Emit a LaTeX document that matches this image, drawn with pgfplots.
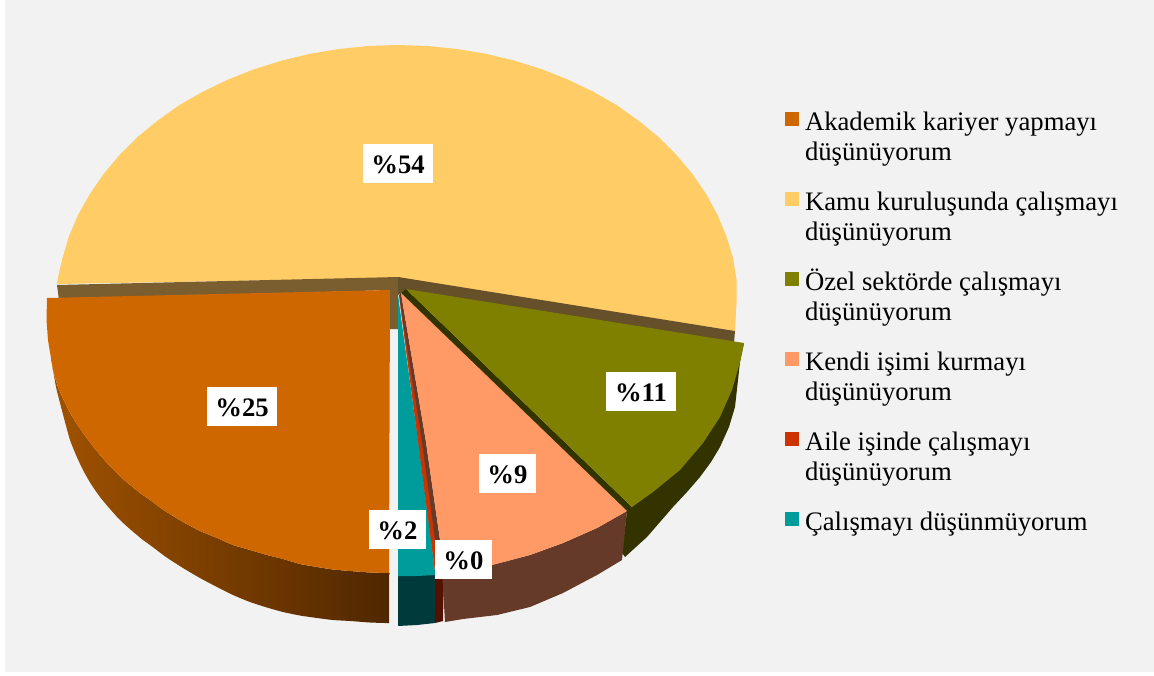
\documentclass[border=0pt]{standalone}
\usepackage{pgfplots}
\pgfplotsset{compat=1.18}
\usepackage{fontspec}
\setmainfont{Liberation Serif}
\definecolor{panel}{HTML}{F2F2F2}
\definecolor{cOrange}{HTML}{CF6700}
\definecolor{cYellow}{HTML}{FFCC66}
\definecolor{cOlive}{HTML}{808000}
\definecolor{cPeach}{HTML}{FF9966}
\definecolor{cRed}{HTML}{CC3300}
\definecolor{cTeal}{HTML}{009C9C}
\definecolor{sideOrangeL}{HTML}{A05200}
\definecolor{sideOrangeR}{HTML}{4F2700}
\definecolor{sideOliveDark}{HTML}{333300}
\definecolor{sidePeach}{HTML}{663A29}
\definecolor{sideRed}{HTML}{551100}
\definecolor{sideTeal}{HTML}{003A3A}
\definecolor{stripL}{HTML}{7A5E2F}
\definecolor{stripR}{HTML}{665029}
\newcommand{\pct}[1]{\fontsize{26.7}{26.7}\selectfont\bfseries\%#1}
\newcommand{\two}[2]{\parbox[t]{330pt}{#1\\#2}}
\tikzset{lab/.style={fill=white,inner sep=0pt,text height=29.5pt,text depth=9.5pt,text=black,anchor=center}}
\begin{document}
\begin{tikzpicture}
\path[use as bounding box] (0,0) rectangle (1154pt,675pt);
\begin{axis}[
  at={(0,0)},anchor=south west,
  scale only axis,width=1154pt,height=675pt,
  xmin=0,xmax=1154,ymin=0,ymax=675,y dir=reverse,
  axis line style={draw=none},ticks=none,clip=false,
  legend image code/.code={\fill[#1] (0pt,-3pt) rectangle (14pt,11pt);\path[fill=none,draw=none] (0pt,2pt) rectangle (20pt,10pt);},
  legend cell align=left,
  legend style={at={(axis cs:785,108)},anchor=north west,draw=none,fill=none,inner sep=0pt,
    outer sep=0pt,row sep=51pt,font=\fontsize{26.7}{30}\selectfont,
    nodes={inner sep=0pt,outer sep=0pt,text height=22pt,text depth=7pt},
    /tikz/every even column/.append style={column sep=0pt}},
]
\addlegendimage{fill=cOrange,draw=none}
\addlegendimage{fill=cYellow,draw=none}
\addlegendimage{fill=cOlive,draw=none}
\addlegendimage{fill=cPeach,draw=none}
\addlegendimage{fill=cRed,draw=none}
\addlegendimage{fill=cTeal,draw=none}
\addlegendentry{\two{Akademik kariyer yapmayı}{düşünüyorum}}
\addlegendentry{\two{Kamu kuruluşunda çalışmayı}{düşünüyorum}}
\addlegendentry{\two{Özel sektörde çalışmayı}{düşünüyorum}}
\addlegendentry{\two{Kendi işimi kurmayı}{düşünüyorum}}
\addlegendentry{\two{Aile işinde çalışmayı}{düşünüyorum}}
\addlegendentry{\parbox[t]{330pt}{Çalışmayı düşünmüyorum}}
% panel
\addplot[fill=panel,draw=none,forget plot] coordinates {(5,0)(1154,0)(1154,672)(5,672)} --cycle;
% Kamu: top face
\addplot[fill=cYellow,draw=none,forget plot] coordinates {
(398,278)(735,331)(736.5,303)(736.7,280.5)(733,258)(726.4,236.2)(717.5,215)(706.1,194)(692.4,174)(676.5,155)(658.5,137)(638.4,120.6)(616.5,105)(593,91.6)(568,79.6)(541.7,69.2)(514.3,60.6)(486,53.8)(457,49)(427.6,46)(398,45)(368.4,46)(339,49)(310,53.8)(281.7,60.6)(254.3,69.2)(228,79.6)(203,91.6)(179.5,105)(157.6,120.6)(137.5,137)(119.5,155)(103.6,174)(89.9,194)(78,215)(69,236.2)(62.5,258)(58.5,275)(57,284)
} --cycle;
% Kamu: edge strips
\addplot[fill=stripL,draw=none,forget plot] coordinates {(398,277)(57,285)(59,300)(390,290)(390,329)(398,329)} --cycle;
\addplot[fill=stripR,draw=none,forget plot] coordinates {(398,277)(735,331)(734,343)(406,291)(401,293)(398,295)} --cycle;
% Akademik
\addplot[left color=sideOrangeL,right color=sideOrangeR,draw=none,forget plot,smooth,tension=0.4] coordinates {
(51,355)(53,370)(58,387)(65,403)(73,418)(83,433)(95,449)(107,463)(123,479)(140,493)(150,500)(165,511)(183,522)(200,531)(217,538)(233,545)(250,550)(267,555)(283,559)(300,564)(317,567)(333,569.5)(350,571)(370,572.5)(389,573)(389,577)(389,619)
(389,623)(385,623)(370,622.5)(350,621)(333,620)(317,618)(300,615.5)(283,612)(267,607.5)(250,602)(233,595)(217,587)(200,578)(183,568)(166,557)(150,545)(143,540)(131,530)(120,520)(110,509)(100,497)(91,484)(83,470)(76,455)(70,440)(65,422)(60,403)(56,387)(53,370)
} --cycle;
\addplot[fill=cOrange,draw=none,forget plot] coordinates {
(390,290)(47,298)(46.5,320)(48,340)(53,370)(58,387)(65,403)(73,418)(83,433)(95,449)(107,463)(123,479)(140,493)(150,500)(165,511)(183,522)(200,531)(217,538)(233,545)(250,550)(267,555)(283,559)(300,564)(317,567)(333,569.5)(350,571)(370,572.5)(389,573)
} --cycle;
% Çalışmayı
\addplot[fill=sideTeal,draw=none,forget plot] coordinates {(398,575)(436,573)(435,623)(417,625)(398,626)} --cycle;
\addplot[fill=cTeal,draw=none,forget plot] coordinates {(398,295)(418,440)(431,540)(435.5,575)(417,576)(398,576)} --cycle;
% Aile
\addplot[fill=sideRed,draw=none,forget plot] coordinates {(435,574)(444,572)(443,621)(435,623)} --cycle;
\addplot[fill=sidePeach,draw=none,forget plot] coordinates {(399,295)(401,293)(425.7,440)(440,540)(445,575)(436,575)(431,540)(418,440)} --cycle;
\addplot[fill=cRed,draw=none,forget plot] coordinates {(399,296)(418,440)(431,540)(435.5,575)(440,575)(435,540)(421.7,440)} --cycle;
% Özel
\addplot[fill=sideOliveDark,draw=none,forget plot] coordinates {
(744,343)(740,362)(735,407)(729,427)(720,447)(711,462)(700,477)(687,492)(673,507)(660,522)(647,537)(636,547)(625,557)(622,553)(627,511)(632,507)
} --cycle;
\addplot[fill=sideOliveDark,draw=none,forget plot] coordinates {(400,294)(406,289)(632,507)(627,512.5)} --cycle;
\addplot[fill=cOlive,draw=none,forget plot] coordinates {
(406,289)(744,343)(740,362)(732,390)(720,417)(703,443)(680,470)(653,492)(632,507)
} --cycle;
% Kendi
\addplot[fill=sidePeach,draw=none,forget plot] coordinates {
(627,511)(622,560)(597,575)(563,593)(530,607)(497,615)(463,619)(445,622)(442,570)(470,569)(492,565)(530,555)(563,543)(597,528)
} --cycle;
\addplot[fill=cPeach,draw=none,forget plot] coordinates {
(401,293)(627,511)(597,528)(563,543)(530,555)(492,565)(470,569)(445,573)(440,540)(425.7,440)
} --cycle;
% labels
\node[lab,minimum width=70pt] at (axis cs:398,163.5) {\pct{54}};
\node[lab,minimum width=70pt] at (axis cs:242,406.5) {\pct{25}};
\node[lab,minimum width=70pt] at (axis cs:641,391.5) {\pct{11}};
\node[lab,minimum width=57pt] at (axis cs:507.5,473.5) {\pct{9}};
\node[lab,minimum width=57pt] at (axis cs:397.5,529.5) {\pct{2}};
\node[lab,minimum width=57pt] at (axis cs:463.5,559.5) {\pct{0}};
\end{axis}
\end{tikzpicture}
\end{document}
